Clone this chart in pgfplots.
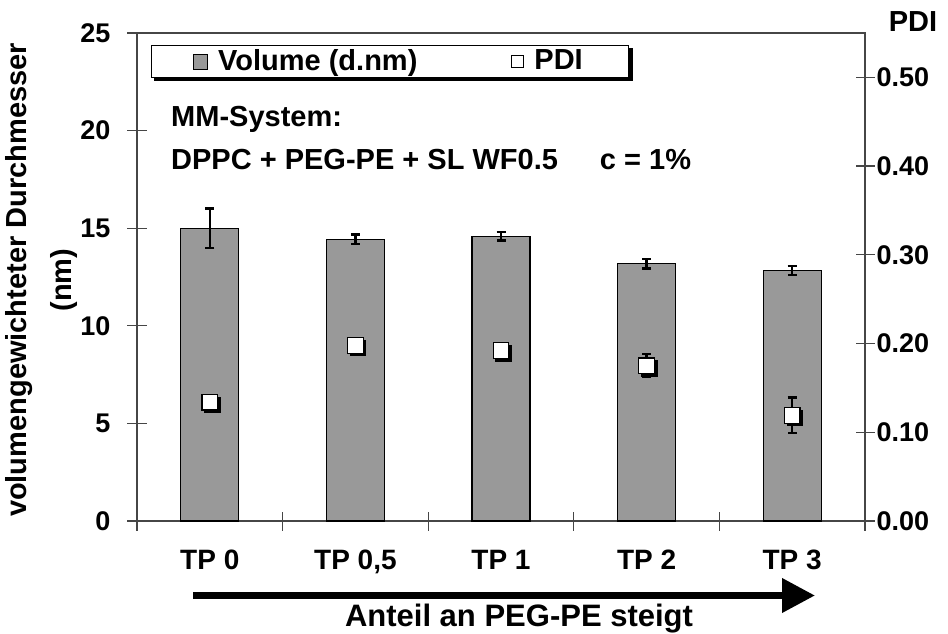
\documentclass[border=0pt]{standalone}
\usepackage{fontspec}
\setmainfont{Liberation Sans}
\usepackage{pgfplots}
\pgfplotsset{compat=1.18}
\usepackage{pgfplotstable}
\usetikzlibrary{arrows.meta}
\pgfdeclarelayer{background}
\pgfsetlayers{background,main}

\definecolor{barg}{RGB}{153,153,153}
\definecolor{axg}{RGB}{70,70,70}

% volume-weighted diameter (nm) with error
\pgfplotstableread{
x  v      e
0  15.00  1.00
1  14.43  0.24
2  14.58  0.22
3  13.18  0.25
4  12.84  0.23
}\voltab

% PDI with error
\pgfplotstableread{
x  p      e
0  0.134  0.000
1  0.198  0.000
2  0.192  0.000
3  0.175  0.013
4  0.119  0.020
}\pditab

\pgfplotsset{
  common/.style={
    scale only axis,
    width=364pt, height=244pt,
    xmin=-0.5, xmax=4.5,
    tick align=center,
    major tick length=9.5pt,
    axis line style={draw=axg, line width=0.6pt},
    every tick/.style={draw=axg, line width=0.6pt},
    /pgf/number format/assume math mode=true,
    ticklabel style={font=\fontsize{13.5}{16}\selectfont\bfseries},
  },
}

\begin{document}
\begin{tikzpicture}
\begin{axis}[common, name=ax,
    ymin=0, ymax=25,
    ytick={0,5,10,15,20,25},
    ytick pos=left,
    yticklabel style={xshift=-5pt},
    xtick={-0.5,0.5,1.5,2.5,3.5,4.5},
    xticklabels={TP 0,{TP 0,5},TP 1,TP 2,TP 3},
    x tick label as interval,
    xtick pos=bottom,
    xticklabel style={font=\fontsize{14}{16}\selectfont\bfseries,
      text height=10pt, text depth=2pt, yshift=-6pt},
  ]
  \addplot[ybar, bar width=29pt, fill=barg, draw=black, line width=0.6pt,
    error bars/.cd, y dir=both, y explicit,
    error bar style={black, line width=1.2pt},
    error mark options={rotate=90, mark size=2.25pt, line width=1.2pt}]
    table[x=x, y=v, y error=e] {\voltab};
\end{axis}
\begin{axis}[common,
    ymin=0, ymax=0.55,
    axis x line=none,
    axis y line*=right,
    ytick={0,0.1,0.2,0.3,0.4,0.5},
    yticklabel style={xshift=-2.5pt, /pgf/number format/.cd, fixed, fixed zerofill, precision=2},
    legend columns=2,
    legend style={name=leg, at={(axis description cs:0.3475,0.9416)}, anchor=center,
      draw=black, line width=0.6pt, fill=white,
      font=\fontsize{14.5}{16}\selectfont\bfseries,
      inner xsep=21pt, inner ysep=0pt,
      /tikz/every odd column/.append style={column sep=3pt},
      /tikz/every even column/.append style={column sep=45pt}},
  ]
  \addlegendimage{legend image code/.code={\draw[fill=barg, draw=black, line width=0.5pt] (0pt,-4pt) rectangle (7pt,3.5pt);}}
  \addlegendentry{Volume (d.nm)}
  % shadow of the PDI markers, with error bars
  \addplot[forget plot, only marks, mark=square*, mark size=3.9pt,
    mark options={fill=black, draw=black, xshift=1.3pt, yshift=-1.3pt},
    error bars/.cd, y dir=both, y explicit,
    error bar style={black, line width=1.2pt},
    error mark options={rotate=90, mark size=2.25pt, line width=1.2pt}]
    table[x=x, y=p, y error=e] {\pditab};
  \addplot[only marks, mark=square*, mark size=3.9pt,
    mark options={fill=white, draw=black, line width=0.6pt},
    legend image code/.code={\draw[fill=white, draw=black, line width=0.5pt] (0pt,-3pt) rectangle (6pt,3pt);}]
    table[x=x, y=p] {\pditab};
  \addlegendentry{PDI}
\end{axis}
\begin{pgfonlayer}{background}
  \fill[black] ([shift={(1.6pt,-1.6pt)}]leg.south west) rectangle ([shift={(1.6pt,-1.6pt)}]leg.north east);
\end{pgfonlayer}
\begin{scope}[shift={(ax.south west)}]
  \node[anchor=base west, inner sep=0pt, font=\fontsize{14.5}{16}\selectfont\bfseries]
    at (16.9pt,197.1pt) {MM-System:};
  \node[anchor=base west, inner sep=0pt, font=\fontsize{14.5}{16}\selectfont\bfseries]
    at (16.9pt,175.5pt) {DPPC + PEG-PE + SL WF0.5\hspace{21pt}c = 1\%};
  \node[rotate=90, anchor=base, inner sep=0pt, font=\fontsize{14.5}{16}\selectfont\bfseries]
    at (-55pt,120.5pt) {volumengewichteter Durchmesser};
  \node[rotate=90, anchor=base, inner sep=0pt, font=\fontsize{14.5}{16}\selectfont\bfseries]
    at (-32.5pt,120.5pt) {(nm)};
  \node[anchor=center, inner sep=0pt, font=\fontsize{14.5}{16}\selectfont\bfseries]
    at (388pt,249.75pt) {PDI};
  \draw[line width=3.5pt, -{Triangle[length=16.5pt, width=16.5pt]}]
    (28pt,-37.25pt) -- (339pt,-37.25pt);
  \node[anchor=base, inner sep=0pt, font=\fontsize{15.5}{17}\selectfont\bfseries]
    at (191pt,-52.5pt) {Anteil an PEG-PE steigt};
  \pgfresetboundingbox
  \useasboundingbox (-68.5pt,-56pt) rectangle (405.5pt,260.5pt);
\end{scope}
\end{tikzpicture}
\end{document}
